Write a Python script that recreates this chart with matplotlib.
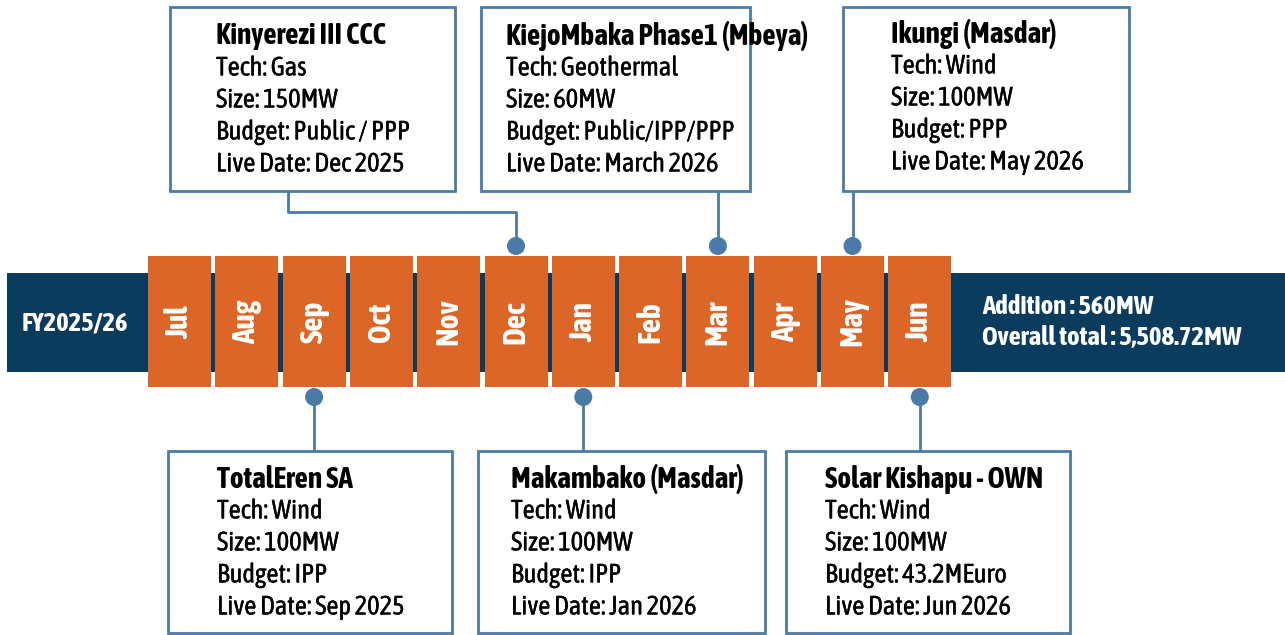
import matplotlib.pyplot as plt
from matplotlib.patches import Rectangle, Circle
from matplotlib import font_manager
import matplotlib.patheffects as pe

# ---- data ----
fiscal_year = 'FY2025/26'
months = ['Jul', 'Aug', 'Sep', 'Oct', 'Nov', 'Dec', 'Jan', 'Feb', 'Mar', 'Apr', 'May', 'Jun']
addition_mw = '560MW'
overall_total_mw = '5,508.72MW'

project_names = ['Kinyerezi III CCC', 'KiejoMbaka Phase1 (Mbeya)', 'Ikungi (Masdar)',
                 'TotalEren SA', 'Makambako (Masdar)', 'Solar Kishapu - OWN']
project_tech = ['Gas', 'Geothermal', 'Wind', 'Wind', 'Wind', 'Wind']
project_size = ['150MW', '60MW', '100MW', '100MW', '100MW', '100MW']
project_budget = ['Public / PPP', 'Public/IPP/PPP', 'PPP', 'IPP', 'IPP', '43.2MEuro']
project_live = ['Dec 2025', 'March 2026', 'May 2026', 'Sep 2025', 'Jan 2026', 'Jun 2026']
project_month = ['Dec', 'Mar', 'May', 'Sep', 'Jan', 'Jun']

# ---- layout (pixels) ----
W, H = 1285, 635
box_side = ['top', 'top', 'top', 'bottom', 'bottom', 'bottom']
box_left = [170, 481, 843, 168, 478, 786]
box_width = [285, 269, 286, 284, 287, 284]
text_pad = [46, 25, 48, 49, 33, 39]

ORANGE = '#DC6528'
NAVY = '#0B3C5D'
STEEL = '#4A7BA8'

# pick a condensed face, preferring one that also has a bold weight
weights = {}
for f in font_manager.fontManager.ttflist:
    if 'Condensed' in f.name or 'Narrow' in f.name:
        w = f.weight if isinstance(f.weight, int) else font_manager.weight_dict.get(f.weight, 400)
        weights.setdefault(f.name, set()).add(w)
family, has_bold = 'Liberation Sans', True
if weights:
    ranked = sorted(weights, key=lambda n: (max(weights[n]) >= 600, 400 in weights[n]), reverse=True)
    family = ranked[0]
    has_bold = max(weights[family]) >= 600
plt.rcParams['font.family'] = [family, 'DejaVu Sans']

fig = plt.figure(figsize=(W / 100, H / 100), dpi=100)
ax = fig.add_axes([0, 0, 1, 1])
ax.set_xlim(0, W)
ax.set_ylim(H, 0)
ax.axis('off')
renderer = fig.canvas.get_renderer()


def bold_kw(color):
    if has_bold:
        return dict(fontweight='bold')
    return dict(path_effects=[pe.withStroke(linewidth=1.1, foreground=color)])


def fit_size(sample, target_px, bold=False):
    kw = bold_kw('k') if bold else {}
    t = ax.text(0, 0, sample, fontsize=10, **kw)
    w = t.get_window_extent(renderer).width
    t.remove()
    return 10 * target_px / w


body_fs = fit_size('Live Date: Dec 2025', 188)
title_fs = fit_size('Kinyerezi III CCC', 169, True)
band_fs = fit_size('Overall total : 5,508.72MW', 258, True)
fy_fs = fit_size('FY2025/26', 106, True)
month_fs = fit_size('Aug', 44, True)
body_fx = [pe.withStroke(linewidth=0.2, foreground='black')]

# dark band
ax.add_patch(Rectangle((7, 273), W - 7, 99, facecolor=NAVY, edgecolor='none', zorder=1))
ax.text(75, 323, fiscal_year, color='white', fontsize=fy_fs,
        ha='center', va='center', zorder=3, **bold_kw('white'))
ax.text(982, 306, 'Addition : ' + addition_mw, color='white', fontsize=band_fs,
        ha='left', va='center', zorder=3, **bold_kw('white'))
ax.text(982, 337, 'Overall total : ' + overall_total_mw, color='white', fontsize=band_fs,
        ha='left', va='center', zorder=3, **bold_kw('white'))

# month cells
x0, pitch, cell_w = 148, 67.3, 63
centers = {}
for i, m in enumerate(months):
    left = x0 + i * pitch
    ax.add_patch(Rectangle((left, 256), cell_w, 131, facecolor=ORANGE,
                           edgecolor='none', zorder=2))
    cx = left + cell_w / 2
    centers[m] = cx
    ax.text(cx, 322, m, color='white', fontsize=month_fs, rotation=90,
            ha='center', va='center', zorder=3, **bold_kw('white'))

# project boxes and connectors
for i, name in enumerate(project_names):
    cx = centers[project_month[i]]
    left, bw = box_left[i], box_width[i]
    if box_side[i] == 'top':
        top, bottom = 7, 191
        dot_y = 246
        if i == 0:
            # box sits left of its month, so the connector bends
            ax.plot([288, 288, cx, cx], [191, 212, 212, dot_y], color=STEEL, lw=2, zorder=4)
        else:
            ax.plot([cx, cx], [bottom, dot_y], color=STEEL, lw=2, zorder=4)
        text_y = 36 if i != 2 else 34
    else:
        top, bottom = 451, 633
        dot_y = 397
        ax.plot([cx, cx], [dot_y, top], color=STEEL, lw=2, zorder=4)
        text_y = 479
    ax.add_patch(Circle((cx, dot_y), 9, facecolor=STEEL, edgecolor='none', zorder=5))
    ax.add_patch(Rectangle((left, top), bw, bottom - top, facecolor='white',
                           edgecolor=STEEL, lw=2, zorder=4))
    lines = [name, 'Tech: ' + project_tech[i], 'Size: ' + project_size[i],
             'Budget: ' + project_budget[i], 'Live Date: ' + project_live[i]]
    for k, line in enumerate(lines):
        if k == 0:
            ax.text(left + text_pad[i], text_y, line, fontsize=title_fs, color='black',
                    ha='left', va='center', zorder=6, **bold_kw('black'))
        else:
            ax.text(left + text_pad[i], text_y + k * 32, line, fontsize=body_fs,
                    color='black', ha='left', va='center', zorder=6, path_effects=body_fx)

fig.savefig('out.png', dpi=100)
